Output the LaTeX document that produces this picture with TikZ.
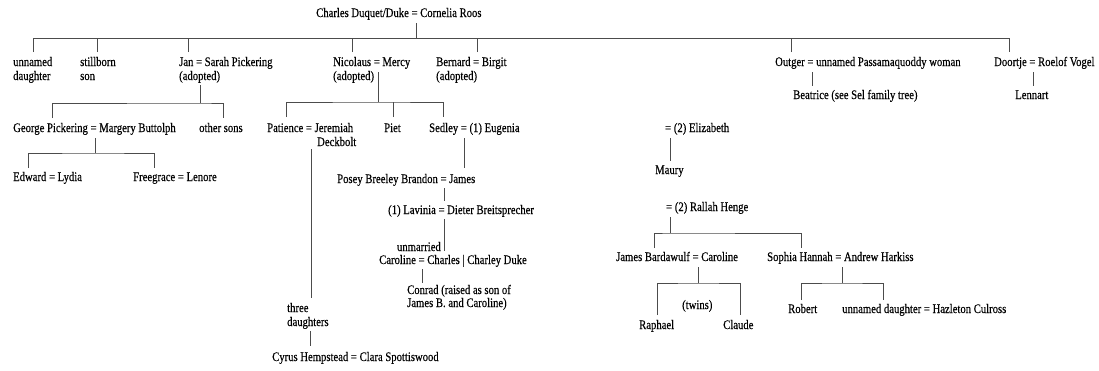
\documentclass[tikz,border=0pt]{standalone}
\usepackage{fontspec}
\setmainfont[FakeStretch=0.82,FakeBold=0.35]{Liberation Serif}
\begin{document}
\begin{tikzpicture}[x=1pt,y=-1pt,
  lbl/.style={inner sep=0pt, anchor=base west, font=\fontsize{13}{14}\selectfont},
  rlbl/.style={lbl, anchor=base east},
  tree/.style={draw=black!70, line width=0.85pt}]
\useasboundingbox (0,0) rectangle (1099,370);
% ---------- generation 0
\node[lbl] (root) at (316,17) {Charles Duquet/Duke = Cornelia Roos};
% ---------- generation 1
\node[lbl] (ud1) at (13,66) {unnamed};
\node[lbl] (ud2) at (13,80) {daughter};
\node[lbl] (sb1) at (80,66) {stillborn};
\node[lbl] (sb2) at (80,80) {son};
\node[lbl] (jan) at (179,66) {Jan = Sarah Pickering};
\node[lbl] (jan2) at (179,80) {(adopted)};
\node[lbl] (nic) at (333,66) {Nicolaus = Mercy};
\node[lbl] (nic2) at (333,80) {(adopted)};
\node[lbl] (ber) at (436,66) {Bernard = Birgit};
\node[lbl] (ber2) at (436,80) {(adopted)};
\node[lbl] (out) at (775,66) {Outger = unnamed Passamaquoddy woman};
\node[lbl] (doo) at (994,66) {Doortje = Roelof Vogel};
\node[lbl] (bea) at (793,99) {Beatrice (see Sel family tree)};
\node[lbl] (len) at (1015,99) {Lennart};
% ---------- generation 2
\node[lbl] (geo) at (13,132) {George Pickering = Margery Buttolph};
\node[lbl] (oth) at (199,132) {other sons};
\node[lbl] (pat) at (267,132) {Patience = Jeremiah};
\node[lbl] (pat2) at (317,146) {Deckbolt};
\node[lbl] (pie) at (384,132) {Piet};
\node[lbl] (sed) at (429,132) {Sedley = (1) Eugenia};
\node[lbl] (eli) at (665,132) {= (2) Elizabeth};
\node[lbl] (mau) at (655,174) {Maury};
\node[lbl] (edw) at (13,181) {Edward = Lydia};
\node[lbl] (fre) at (133,181) {Freegrace = Lenore};
% ---------- later generations
\node[lbl] (pos) at (337,183) {Posey Breeley Brandon = James};
\node[lbl] (lav) at (388,214) {(1) Lavinia = Dieter Breitsprecher};
\node[rlbl] (unm) at (441,251) {unmarried};
\node[lbl] (car) at (379,264) {Caroline = Charles | Charley Duke};
\node[lbl] (con) at (407,294) {Conrad (raised as son of};
\node[lbl] (con2) at (407,307) {James B. and Caroline)};
\node[lbl] (thr) at (287,312) {three};
\node[lbl] (thr2) at (287,326) {daughters};
\node[lbl] (cyr) at (272,361) {Cyrus Hempstead = Clara Spottiswood};
\node[lbl] (ral) at (666,211) {= (2) Rallah Henge};
\node[lbl] (jb) at (616,261) {James Bardawulf = Caroline};
\node[lbl] (sop) at (767,261) {Sophia Hannah = Andrew Harkiss};
\node[lbl] (twi) at (682,309) {(twins)};
\node[lbl] (rap) at (639,329) {Raphael};
\node[lbl] (cla) at (723,329) {Claude};
\node[lbl] (rob) at (788,313) {Robert};
\node[lbl] (und) at (842,313) {unnamed daughter = Hazleton Culross};
% ---------- connector points
\coordinate (r0) at (416,23);  \coordinate (r1) at (416,38);
\coordinate (b-ud) at (33,52);   \coordinate (b-sb) at (97,52);
\coordinate (b-jan) at (188,52); \coordinate (b-nic) at (352,52);
\coordinate (b-ber) at (477,52); \coordinate (b-out) at (791,52);
\coordinate (b-doo) at (1009,52);
\coordinate (j0) at (200,85);  \coordinate (j1) at (200,103);
\coordinate (b-geo) at (52,118); \coordinate (b-oth) at (223,118);
\coordinate (n0) at (378,72);  \coordinate (n1) at (378,102);
\coordinate (b-pat) at (286,117); \coordinate (b-pie) at (393,117);
\coordinate (b-sed) at (443,117);
\coordinate (o0) at (812,72);  \coordinate (o1) at (812,86);
\coordinate (d0) at (1033,72); \coordinate (d1) at (1033,86);
\coordinate (g0) at (95,138);  \coordinate (g1) at (95,153);
\coordinate (b-edw) at (28,168); \coordinate (b-fre) at (154,168);
\coordinate (p0) at (311,149); \coordinate (p1) at (311,298);
\coordinate (t0) at (310,331); \coordinate (t1) at (310,346);
\coordinate (s0) at (464,138); \coordinate (s1) at (464,168);
\coordinate (q0) at (444,188); \coordinate (q1) at (444,201);
\coordinate (l0) at (444,219); \coordinate (l1) at (444,251);
\coordinate (c0) at (422,269); \coordinate (c1) at (422,283);
\coordinate (e0) at (670,138); \coordinate (e1) at (670,161);
\coordinate (h0) at (670,217); \coordinate (h1) at (670,233);
\coordinate (b-jb) at (654,248); \coordinate (b-sop) at (801,248);
\coordinate (k0) at (698,267); \coordinate (k1) at (698,283);
\coordinate (b-rap) at (657,315); \coordinate (b-cla) at (740,315);
\coordinate (m0) at (842,267); \coordinate (m1) at (842,283);
\coordinate (b-rob) at (801,300); \coordinate (b-und) at (883,300);
% ---------- connectors
\draw[tree] (r0) -- (r1);
\draw[tree] (b-ud) -- (b-ud |- r1) -| (b-doo);
\foreach \c in {b-sb,b-jan,b-nic,b-ber,b-out} \draw[tree] (\c) -- (\c |- r1);
\draw[tree] (j0) -- (j1);
\draw[tree] (b-geo) |- (j1) -| (b-oth);
\draw[tree] (n0) -- (n1);
\draw[tree] (b-pat) |- (n1) -| (b-sed);
\draw[tree] (b-pie) -- (b-pie |- n1);
\draw[tree] (o0) -- (o1);
\draw[tree] (d0) -- (d1);
\draw[tree] (g0) -- (g1);
\draw[tree] (b-edw) |- (g1) -| (b-fre);
\draw[tree] (p0) -- (p1);
\draw[tree] (t0) -- (t1);
\draw[tree] (s0) -- (s1);
\draw[tree] (q0) -- (q1);
\draw[tree] (l0) -- (l1);
\draw[tree] (c0) -- (c1);
\draw[tree] (e0) -- (e1);
\draw[tree] (h0) -- (h1);
\draw[tree] (b-jb) |- (h1) -| (b-sop);
\draw[tree] (k0) -- (k1);
\draw[tree] (b-rap) |- (k1) -| (b-cla);
\draw[tree] (m0) -- (m1);
\draw[tree] (b-rob) |- (m1) -| (b-und);
\end{tikzpicture}
\end{document}
